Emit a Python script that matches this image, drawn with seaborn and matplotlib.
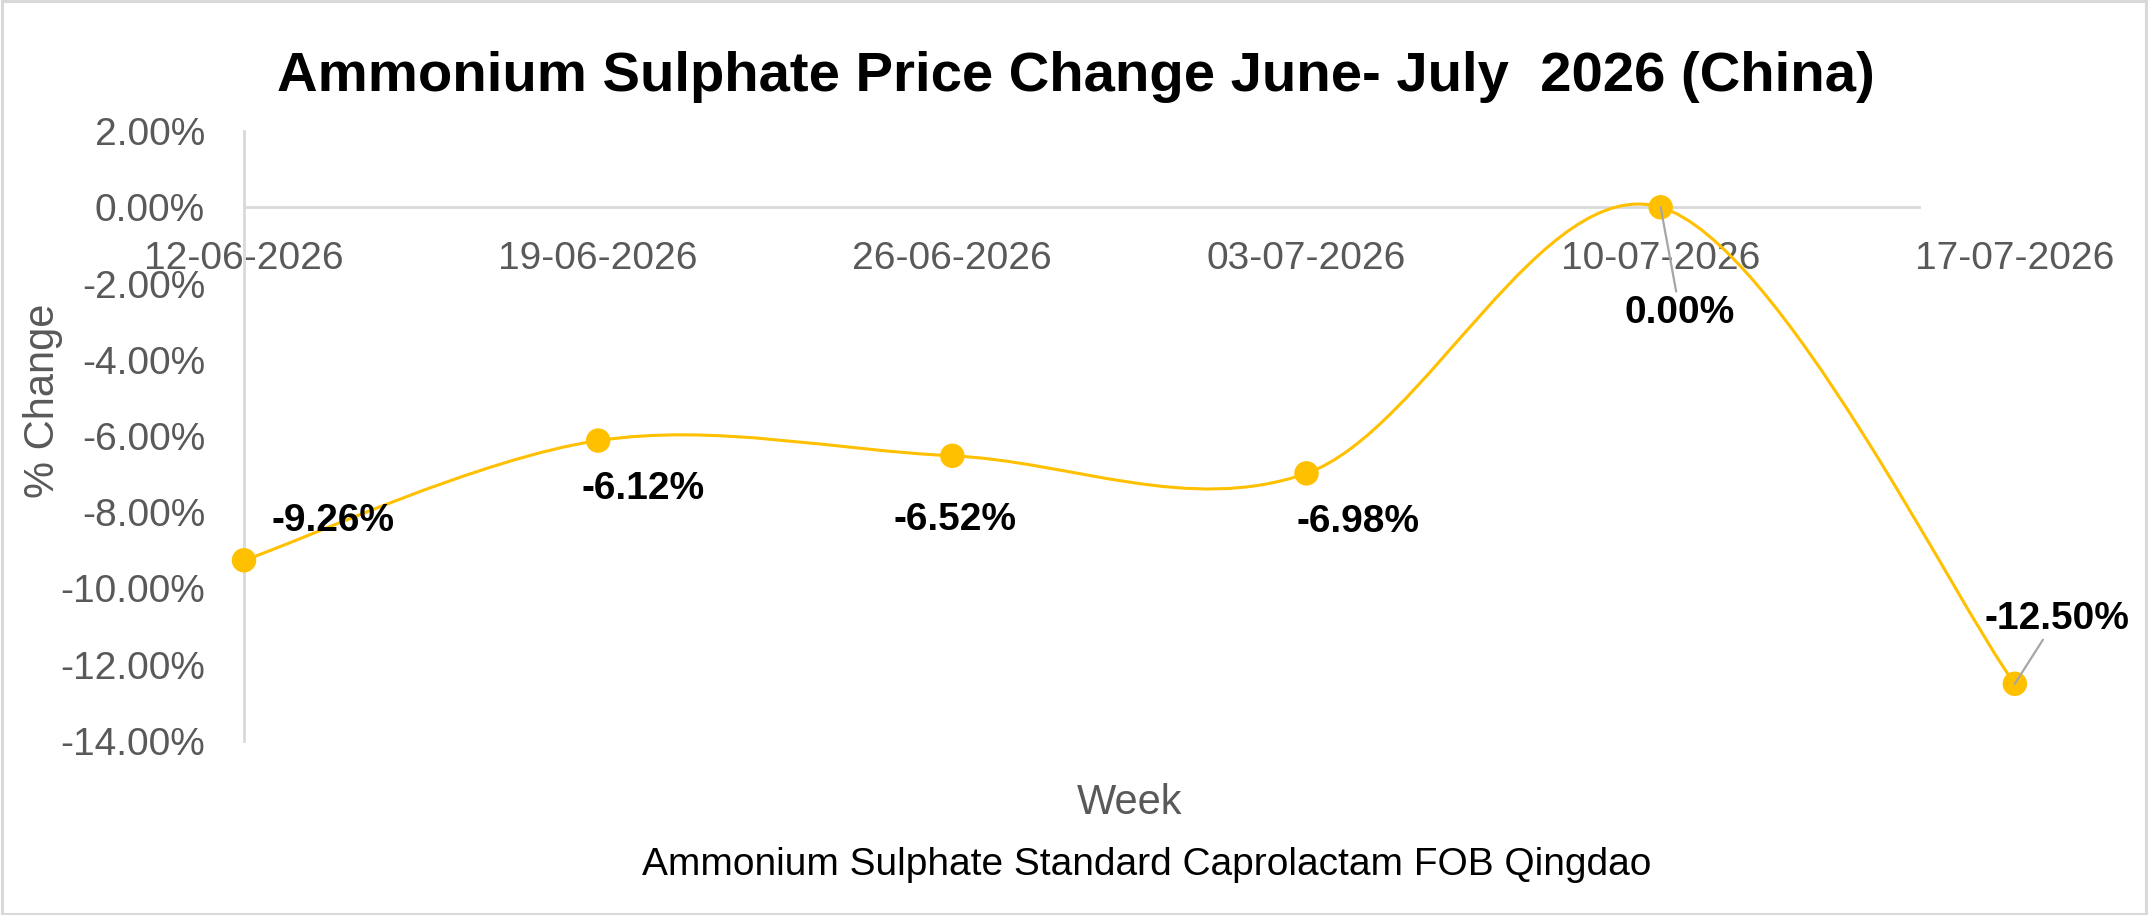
import numpy as np
import matplotlib
matplotlib.use("Agg")
import matplotlib.pyplot as plt
from matplotlib.path import Path
from matplotlib.patches import PathPatch, Rectangle
import seaborn as sns

# --- data ---
weeks = ["12-06-2026", "19-06-2026", "26-06-2026", "03-07-2026", "10-07-2026", "17-07-2026"]
pct_change = [-9.26, -6.12, -6.52, -6.98, 0.00, -12.50]
y_ticks = [2, 0, -2, -4, -6, -8, -10, -12, -14]

title = "Ammonium Sulphate Price Change June- July  2026 (China)"
subtitle = "Ammonium Sulphate Standard Caprolactam FOB Qingdao"

# label offsets (points) from each marker
label_offsets = [(64, 28), (32, -35), (2, -46), (37, -35), (14, -76), (30, 47)]
leader = [False, False, False, False, True, True]

LINE = "#FFC000"
GREY_TXT = "#595959"
AXIS = "#D9D9D9"

sns.set_theme(style="white")
plt.rcParams["font.family"] = ["Liberation Sans", "DejaVu Sans"]

fig = plt.figure(figsize=(21.48, 9.15), dpi=100)
ax = fig.add_axes([0.1136, 0.1902, 0.8244, 0.6666])

x = np.arange(len(weeks))
y = np.array(pct_change)

# smoothed line like Excel (Catmull-Rom style Bezier)
pts = np.column_stack([x, y]).astype(float)
ext = np.vstack([pts[0], pts, pts[-1]])
verts = [tuple(pts[0])]
codes = [Path.MOVETO]
for i in range(len(pts) - 1):
    p0, p1, p2, p3 = ext[i], ext[i + 1], ext[i + 2], ext[i + 3]
    c1 = p1 + (p2 - p0) / 6
    c2 = p2 - (p3 - p1) / 6
    verts += [tuple(c1), tuple(c2), tuple(p2)]
    codes += [Path.CURVE4] * 3
ax.add_patch(PathPatch(Path(verts, codes), facecolor="none", edgecolor=LINE, lw=2.2, zorder=3, clip_on=False))

sns.scatterplot(x=x, y=y, ax=ax, s=310, color=LINE, edgecolor="none", zorder=4, clip_on=False, legend=False)

for i, (v, off) in enumerate(zip(pct_change, label_offsets)):
    kw = {}
    if leader[i]:
        kw["arrowprops"] = dict(arrowstyle="-", color="#A6A6A6", lw=1.6, shrinkA=0, shrinkB=0)
    ax.annotate(f"{v:.2f}%", xy=(i, v), xytext=off, textcoords="offset points",
                ha="center", va="center", fontsize=28, fontweight="bold", color="black",
                zorder=6, annotation_clip=False, **kw)

ax.set_xlim(0, len(weeks) - 1)
ax.set_ylim(-14, 2)
ax.set_xticks(x)
ax.set_xticklabels(weeks)
ax.set_yticks(y_ticks)
ax.set_yticklabels([f"{t:.2f}%" for t in y_ticks])
ax.tick_params(axis="x", length=0, pad=24, labelsize=28, labelcolor=GREY_TXT)
ax.tick_params(axis="y", length=0, pad=28, labelsize=28, labelcolor=GREY_TXT)

for s in ["top", "right"]:
    ax.spines[s].set_visible(False)
ax.spines["bottom"].set_position(("data", 0))
ax.spines["bottom"].set_bounds(0, 4.73)
ax.spines["bottom"].set_color(AXIS)
ax.spines["bottom"].set_linewidth(2)
ax.spines["left"].set_color(AXIS)
ax.spines["left"].set_linewidth(2)
ax.set_xlabel("")
ax.set_ylabel("")
ax.grid(False)
ax.patch.set_alpha(0)

fig.text(0.501, 0.916, title, ha="center", va="center", fontsize=40.5, fontweight="bold", color="black")
fig.text(0.020, 0.562, "% Change", ha="center", va="center", rotation=90, fontsize=30, color=GREY_TXT)
fig.text(0.526, 0.122, "Week", ha="center", va="center", fontsize=30, color=GREY_TXT)
fig.text(0.534, 0.055, subtitle, ha="center", va="center", fontsize=28, color="black")

fig.patches.append(Rectangle((0.0007, 0.0016), 0.9986, 0.9968, transform=fig.transFigure,
                             fill=False, edgecolor=AXIS, lw=2.2, zorder=0))

fig.savefig("out.png", dpi=100, facecolor="white")
